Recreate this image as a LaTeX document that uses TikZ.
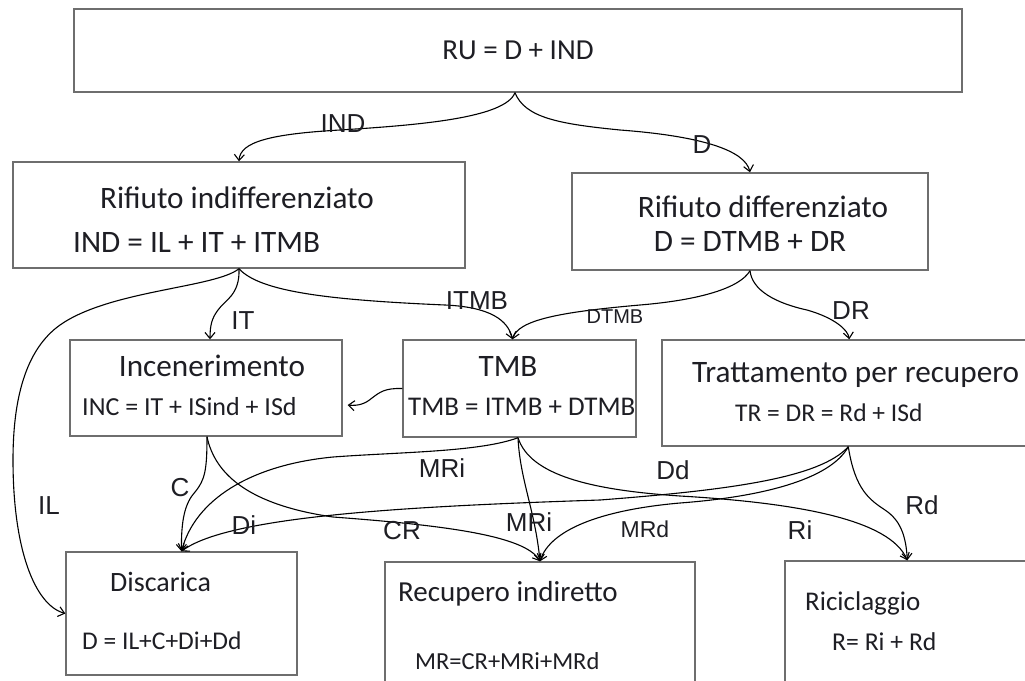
\documentclass[tikz,border=0pt]{standalone}
\usepackage{fontspec}
\newfontfamily\carl{Carlito}
\newfontfamily\arl{Liberation Sans}
\usetikzlibrary{arrows.meta,calc}
\definecolor{boxgray}{HTML}{6E6E6E}
\definecolor{txtc}{HTML}{1E1E24}
\tikzset{
  box/.style={draw=boxgray, line width=1.4pt, inner sep=0pt},
  ct/.style={font=\carl\fontsize{#1}{#1}\selectfont, text=txtc, inner sep=0pt, anchor=base},
  lt/.style={font=\carl\fontsize{#1}{#1}\selectfont, text=txtc, inner sep=0pt, anchor=base west},
  lbl/.style={font=\arl\fontsize{#1}{#1}\selectfont, text=txtc, inner sep=0pt, anchor=base},
  conn/.style={draw=black, line width=1.1pt, -{Straight Barb[length=6pt,width=10pt]}},
}
\begin{document}
\begin{tikzpicture}[x=1pt,y=-1pt]
\useasboundingbox (0,0) rectangle (1025,680);
\clip (0,0) rectangle (1025,680);
\fill[white] (0,0) rectangle (1025,680);
% boxes
\node[box, minimum width=888, minimum height=83] (top) at (518,50.5) {};
\node[box, minimum width=452, minimum height=106] (ind) at (239,215) {};
\node[box, minimum width=356, minimum height=97] (diff) at (750,221.5) {};
\node[box, minimum width=272, minimum height=96] (inc) at (206,388) {};
\node[box, minimum width=233, minimum height=97] (tmb) at (519.5,388.5) {};
\node[box, minimum width=390, minimum height=106] (tr) at (857,393) {};
\node[box, minimum width=231, minimum height=123] (dis) at (181.5,613.5) {};
\node[box, minimum width=310, minimum height=130] (rec) at (540,627) {};
\node[box, minimum width=265, minimum height=131] (ric) at (917.5,626.5) {};
% box texts
\node[ct=29] (ttop) at (518,59) {RU = D + IND};
\node[ct=31.2] (tind1) at (237,208.6) {Rifiuto indifferenziato};
\node[lt=31.2] (tind2) at (73,252.6) {IND = IL + IT + ITMB};
\node[ct=31.2] (tdiff1) at (763,217.5) {Rifiuto differenziato};
\node[ct=31.2] (tdiff2) at (750,251.5) {D = DTMB + DR};
\node[ct=31.2] (tinc1) at (212,376.6) {Incenerimento};
\node[lt=26] (tinc2) at (82,415) {INC = IT + ISind + ISd};
\node[ct=31.2] (ttmb1) at (508,376.6) {TMB};
\node[lt=27] (ttmb2) at (408,415.3) {TMB = ITMB + DTMB};
\node[lt=31.2] (ttr1) at (692,382.5) {Trattamento per recupero};
\node[lt=25.5] (ttr2) at (735,421.5) {TR = DR = Rd + ISd};
\node[lt=28] (tdis1) at (110,591.7) {Discarica};
\node[lt=25.5] (tdis2) at (82,649.8) {D = IL+C+Di+Dd};
\node[lt=29] (trec1) at (398,601) {Recupero indiretto};
\node[lt=24.5] (trec2) at (415,669.6) {MR=CR+MRi+MRd};
\node[lt=27] (tric1) at (805,610.3) {Riciclaggio};
\node[lt=25.7] (tric2) at (832,650) {R= Ri + Rd};
% connectors
\draw[conn] ([xshift=-3pt]top.south) .. controls (505,118) and (420,125) .. (340,130) .. controls (270,134) and (240,142) .. (ind.north);
\draw[conn] ([xshift=-3pt]top.south) .. controls (525,118) and (560,124) .. (620,130) .. controls (700,136) and (745,150) .. (diff.north);
\draw[conn] (ind.south) .. controls (240,295) and (225,300) .. (218,310) .. controls (212,318) and (210,325) .. ([xshift=4pt]inc.north);
\draw[conn] (ind.south) .. controls (260,292) and (330,300) .. (445,305) .. controls (490,307) and (508,320) .. ([xshift=-7pt]tmb.north);
\draw[conn] (ind.south) .. controls (215,288) and (110,290) .. (60,325) .. controls (25,350) and (13,400) .. (13,460) .. controls (13,550) and (35,605) .. (dis.west);
\draw[conn] (diff.south) .. controls (740,288) and (700,300) .. (640,305) .. controls (560,312) and (518,320) .. ([xshift=-7pt]tmb.north);
\draw[conn] (diff.south) .. controls (752,290) and (775,303) .. (807,310) .. controls (835,318) and (848,330) .. ([xshift=188pt]tr.north west);
\draw[conn] (tmb.west) .. controls (385,388) and (380,392) .. (372,398) .. controls (365,404) and (358,406) .. ([xshift=5pt,yshift=-17pt]inc.east);
\draw[conn] ([xshift=1pt]inc.south) .. controls (207,470) and (205,480) .. (195,492) .. controls (185,503) and (181,520) .. (dis.north);
\draw[conn] ([xshift=1pt]inc.south) .. controls (215,475) and (250,505) .. (333,517) .. controls (440,525) and (525,535) .. (rec.north);
\draw[conn] ([xshift=-1.5pt]tmb.south) .. controls (480,452) and (400,452) .. (333,457) .. controls (250,465) and (195,500) .. (dis.north);
\draw[conn] ([xshift=-1.5pt]tmb.south) .. controls (520,480) and (535,510) .. (rec.north);
\draw[conn] ([xshift=-1.5pt]tmb.south) .. controls (530,475) and (590,490) .. (680,496) .. controls (800,503) and (890,520) .. ([xshift=123pt]ric.north west);
\draw[conn] ([xshift=187pt]tr.south west) .. controls (820,478) and (730,490) .. (600,500) .. controls (420,506) and (230,515) .. (dis.north);
\draw[conn] ([xshift=187pt]tr.south west) .. controls (830,480) and (760,497) .. (680,503) .. controls (600,510) and (550,530) .. (rec.north);
\draw[conn] ([xshift=187pt]tr.south west) .. controls (855,490) and (870,500) .. (885,510) .. controls (900,520) and (906,535) .. ([xshift=123pt]ric.north west);
% labels
\node[lbl=26] (lIND) at (343,132.3) {IND};
\node[lbl=26] (lD) at (702,153.3) {D};
\node[lbl=26] (lIT) at (243,329.3) {IT};
\node[lbl=26] (lITMB) at (477,309.3) {ITMB};
\node[lbl=20] (lDTMB) at (615,323) {DTMB};
\node[lbl=26] (lDR) at (851,319.5) {DR};
\node[lbl=26] (lIL) at (49,514.3) {IL};
\node[lbl=26] (lC) at (180,496.3) {C};
\node[lbl=26] (lDi) at (244,534.3) {Di};
\node[lbl=26] (lMRi) at (442,477.3) {MRi};
\node[lbl=26] (lCR) at (402,539.3) {CR};
\node[lbl=26] (lMRib) at (529,531.3) {MRi};
\node[lbl=23] (lMRd) at (645,537.2) {MRd};
\node[lbl=26] (lDd) at (673,479.3) {Dd};
\node[lbl=26] (lRi) at (800,539.3) {Ri};
\node[lbl=26] (lRd) at (922,514.3) {Rd};
\end{tikzpicture}
\end{document}
